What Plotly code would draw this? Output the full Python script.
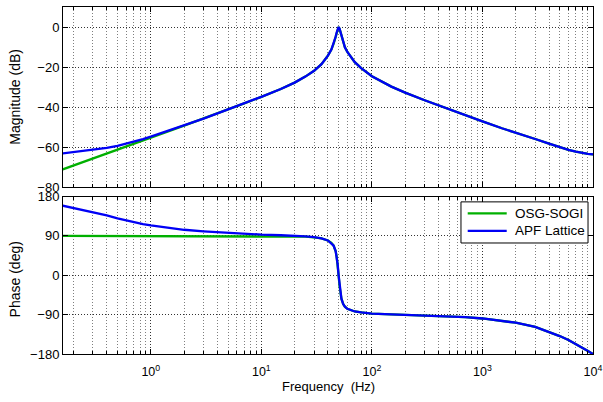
import plotly.graph_objects as go

# ---------------- data ----------------
freq = [0.16, 0.2, 0.25, 0.3, 0.4, 0.5, 0.6, 0.7, 0.85, 1, 1.5, 2, 3, 5, 7, 10,
        15, 20, 25, 30, 35, 40, 43, 45, 47, 48, 49, 50, 51, 52, 53, 55, 57, 60,
        65, 70, 80, 100, 150, 200, 300, 500, 700, 1000, 1500, 2000, 3000, 4000,
        5000, 6000, 7000, 8000, 9000, 10000]

sogi_mag = [-71.2, -69.3, -67.3, -65.8, -63.3, -61.3, -59.7, -58.4, -56.7, -55.3,
            -51.8, -49.3, -45.8, -41.2, -38.2, -34.9, -31.0, -27.8, -24.8, -21.9,
            -18.6, -14.3, -11.3, -8.5, -4.9, -2.8, -0.9, 0.0, -0.8, -2.6, -4.5,
            -7.7, -10.1, -12.5, -15.3, -17.6, -20.6, -24.6, -29.8, -32.8, -36.6,
            -41.2, -44.1, -47.2, -50.6, -53.0, -56.0, -58.3, -60.1, -61.4, -62.3,
            -63.0, -63.4, -63.7]

apf_mag = [-63.2, -62.6, -62.0, -61.5, -60.4, -59.4, -58.3, -57.4, -56.0, -54.8,
           -51.5, -49.2, -45.8, -41.2, -38.2, -34.9, -31.0, -27.8, -24.8, -21.9,
           -18.6, -14.3, -11.3, -8.5, -4.9, -2.8, -0.9, 0.0, -0.8, -2.6, -4.5,
           -7.7, -10.1, -12.5, -15.3, -17.6, -20.6, -24.6, -29.8, -32.8, -36.6,
           -41.2, -44.1, -47.2, -50.6, -53.0, -56.0, -58.3, -60.1, -61.4, -62.3,
           -63.0, -63.4, -63.7]

sogi_phase = [90, 90, 90, 90, 90, 90, 90, 90, 90, 90, 90, 90, 90, 90, 89.9, 89.6,
              89.4, 89.0, 88.3, 86.8, 84.3, 79.5, 74.1, 67.8, 55.2, 43.5, 25.2, 0,
              -24.7, -42.4, -53.6, -65.7, -71.9, -76.8, -80.8, -82.8, -84.9, -87.6,
              -89.5, -90.5, -91.9, -94.0, -95.9, -98.8, -103.5, -108.5, -118, -129,
              -139, -148, -157, -165, -173, -180]

apf_phase = [159, 154, 149, 145, 137, 130, 125, 121, 117, 114, 108, 104, 100.5, 97,
             95, 93, 91.5, 90.5, 89, 87, 84.5, 79.5, 73.5, 68, 55.2, 43.5, 25.2, 0,
             -24.7, -42.4, -53.6, -65.7, -71.9, -76.8, -80.8, -82.8, -84.9, -87.6,
             -89.5, -90.5, -91.9, -94.0, -95.9, -98.8, -103.5, -108.5, -118, -129,
             -139, -148, -157, -165, -173, -180]

series_names = ["OSG-SOGI", "APF Lattice"]

x_major = [1, 10, 100, 1000, 10000]
x_major_text = ["10<sup>0</sup>", "10<sup>1</sup>", "10<sup>2</sup>",
                "10<sup>3</sup>", "10<sup>4</sup>"]
x_minor = [m * d for d in [0.1, 1, 10, 100, 1000] for m in range(2, 10)]
mag_ticks = [-80, -60, -40, -20, 0]
phase_ticks = [-180, -90, 0, 90, 180]

GREEN = "#00b000"
BLUE = "#0000f5"
FONT = "Arial, Liberation Sans, sans-serif"
LW = 2.3

fig = go.Figure()
fig.add_trace(go.Scatter(x=freq, y=sogi_mag, xaxis="x", yaxis="y", mode="lines",
                         line=dict(color=GREEN, width=LW), name=series_names[0]))
fig.add_trace(go.Scatter(x=freq, y=apf_mag, xaxis="x", yaxis="y", mode="lines",
                         line=dict(color=BLUE, width=LW), name=series_names[1]))
fig.add_trace(go.Scatter(x=freq, y=sogi_phase, xaxis="x2", yaxis="y2", mode="lines",
                         line=dict(color=GREEN, width=LW), name=series_names[0]))
fig.add_trace(go.Scatter(x=freq, y=apf_phase, xaxis="x2", yaxis="y2", mode="lines",
                         line=dict(color=BLUE, width=LW), name=series_names[1]))

grid_major = "rgba(0,0,0,0.8)"
grid_minor = "rgba(0,0,0,0.5)"
DOT = "1px,2px"

def xaxis_common(show_labels):
    return dict(
        type="log", range=[-0.794, 4], tickvals=x_major,
        ticktext=x_major_text, showticklabels=show_labels, automargin=False,
        ticks="inside", ticklen=5, tickcolor="black", ticklabelstandoff=6,
        showline=True, linecolor="black", linewidth=1, mirror="ticks",
        showgrid=True, gridcolor=grid_major, griddash=DOT, gridwidth=1,
        zeroline=False,
        minor=dict(tickvals=x_minor, ticks="inside", ticklen=3, tickcolor="black",
                   showgrid=True, gridcolor=grid_minor, griddash=DOT, gridwidth=1),
        tickfont=dict(family=FONT, size=12.5, color="black"),
    )

def yaxis_common(rng, ticks, domain, anchor):
    return dict(
        range=rng, tickvals=ticks, domain=domain, anchor=anchor, automargin=False,
        ticks="inside", ticklen=5, tickcolor="black",
        showline=True, linecolor="black", linewidth=1, mirror="ticks",
        showgrid=True, gridcolor=grid_major, griddash=DOT, gridwidth=1,
        zeroline=False, tickfont=dict(family=FONT, size=13, color="black"),
    )

xa1 = xaxis_common(False)
xa1.update(anchor="y", domain=[0, 1], matches="x2")
xa2 = xaxis_common(True)
xa2.update(anchor="y2", domain=[0, 1])

# legend box drawn in paper space (bottom panel, top-right corner)
leg_x0, leg_x1, leg_y0, leg_y1 = 0.7509, 0.9906, 0.3199, 0.4384
leg_line_x = (0.7636, 0.8372)
leg_rows_y = [0.4055, 0.3546]
leg_colors = [GREEN, BLUE]

shapes = [dict(type="rect", xref="paper", yref="paper", x0=leg_x0, x1=leg_x1,
               y0=leg_y0, y1=leg_y1, line=dict(color="black", width=1),
               fillcolor="white", layer="above")]
annotations = [
    dict(text="Magnitude (dB)", textangle=-90, xref="paper", yref="paper",
         x=-0.0906, y=0.7413, xanchor="center", yanchor="middle",
         showarrow=False, font=dict(family=FONT, size=14)),
    dict(text="Phase (deg)", textangle=-90, xref="paper", yref="paper",
         x=-0.0906, y=0.215, xanchor="center", yanchor="middle",
         showarrow=False, font=dict(family=FONT, size=14)),
    dict(text="Frequency\u00a0 (Hz)", xref="paper", yref="paper",
         x=0.5, y=-0.0935, xanchor="center", yanchor="middle",
         showarrow=False, font=dict(family=FONT, size=13)),
]
for name, yy, col in zip(series_names, leg_rows_y, leg_colors):
    shapes.append(dict(type="line", xref="paper", yref="paper",
                       x0=leg_line_x[0], x1=leg_line_x[1], y0=yy, y1=yy,
                       line=dict(color=col, width=LW), layer="above"))
    annotations.append(dict(text=name, xref="paper", yref="paper", x=0.8491, y=yy,
                            xanchor="left", yanchor="middle", showarrow=False,
                            font=dict(family=FONT, size=13.5, color="black")))

fig.update_layout(
    width=603, height=402, autosize=False, showlegend=False,
    margin=dict(l=63, r=10, t=7, b=48, autoexpand=False),
    paper_bgcolor="white", plot_bgcolor="white",
    font=dict(family=FONT, size=13, color="black"),
    xaxis=xa1,
    yaxis=yaxis_common([-80, 10], mag_ticks, [0.4812, 1], "x"),
    xaxis2=xa2,
    yaxis2=yaxis_common([-180, 180], phase_ticks, [0, 0.4538], "x2"),
    shapes=shapes,
    annotations=annotations,
)

fig.write_html(
    "out.html",
    config={"displayModeBar": False, "responsive": False},
    post_script="document.body.style.margin='0';document.body.style.overflow='hidden';",
)
